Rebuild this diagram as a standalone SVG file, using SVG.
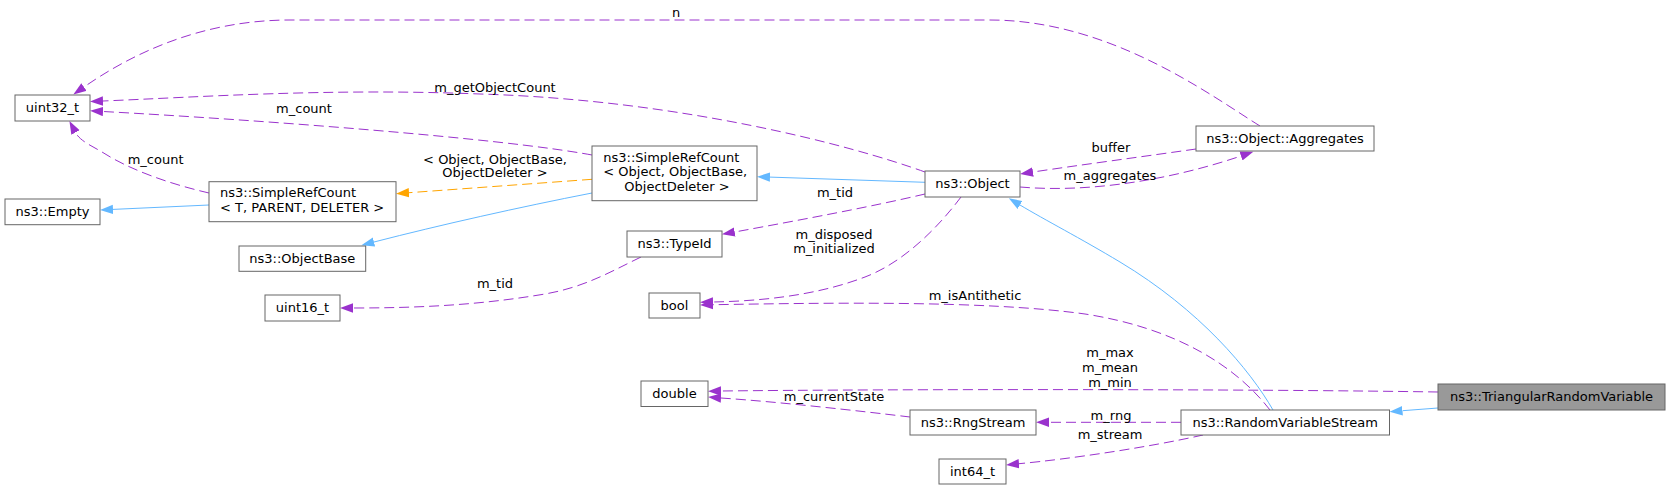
<svg xmlns="http://www.w3.org/2000/svg" width="1671" height="490" viewBox="0 0 1671 490">
<style>
  .node rect { fill: #ffffff; stroke: #666666; stroke-width: 1; }
  .node.main rect { fill: #999999; stroke: #666666; }
  text { font-family: "DejaVu Sans", "Liberation Sans", sans-serif; font-size: 13px; fill: #000000; }
  .c { text-anchor: middle; }
  .edge { fill: none; stroke-width: 1; }
  .use { stroke: #9a32cd; stroke-dasharray: 10,5; marker-end: url(#ap); }
  .inh { stroke: #63b8ff; marker-end: url(#ab); }
  .tpl { stroke: #ffa500; stroke-dasharray: 10,5; marker-end: url(#ao); }
</style>
<defs>
  <marker id="ap" markerUnits="userSpaceOnUse" markerWidth="14" markerHeight="10" refX="0" refY="5" orient="auto"><path d="M0,0.3 L13,5 L0,9.7 z" fill="#9a32cd"/></marker>
  <marker id="ab" markerUnits="userSpaceOnUse" markerWidth="14" markerHeight="10" refX="0" refY="5" orient="auto"><path d="M0,0.3 L13,5 L0,9.7 z" fill="#63b8ff"/></marker>
  <marker id="ao" markerUnits="userSpaceOnUse" markerWidth="14" markerHeight="10" refX="0" refY="5" orient="auto"><path d="M0,0.3 L13,5 L0,9.7 z" fill="#ffa500"/></marker>
</defs>
<rect x="0" y="0" width="1671" height="490" fill="#ffffff"/>

<g id="connectors">
  <path class="edge inh" d="M1438,408 L1402.5,410.7"/>
  <path class="edge inh" d="M1273,410 C1250,370 1200,310 1120,262 C1080,238 1045,220 1020,205"/>
  <path class="edge inh" d="M925,182.3 L770,177.1"/>
  <path class="edge tpl" d="M592,179.3 L409,192.7"/>
  <path class="edge inh" d="M592,193 C520,207 440,225 374,242"/>
  <path class="edge inh" d="M209,205 L113,209.4"/>
  <path class="edge use" d="M209,193 C170,184 130,170 102,152 C92,146 80,141 75.5,132.5"/>
  <path class="edge use" d="M592,155 C500,138 260,120 103,111.5"/>
  <path class="edge use" d="M925,172 C850,145 680,100 480,94 C330,88 200,97 103,101"/>
  <path class="edge use" d="M1260,126 C1210,95 1110,20 990,20 L290,20 C200,20 130,55 84,87"/>
  <path class="edge use" d="M1196,149 C1140,157 1080,165 1033,172"/>
  <path class="edge use" d="M1020,187 C1090,193 1170,180 1241,156"/>
  <path class="edge use" d="M925,194 C870,207 800,220 734.7,232"/>
  <path class="edge use" d="M641,257 C610,272 585,287 545,294 C480,305 420,308 353,308"/>
  <path class="edge use" d="M961,197 C940,225 905,262 865,277 C815,296 760,301 713,302"/>
  <path class="edge use" d="M1270,410 C1235,365 1175,328 1085,314 C985,300 820,303 713,304.7"/>
  <path class="edge use" d="M1438,392 C1250,389 900,389 721,391"/>
  <path class="edge use" d="M910,417 C860,411 780,402 721,398"/>
  <path class="edge use" d="M1181,422.3 L1049,422.3"/>
  <path class="edge use" d="M1203,435 C1150,447 1070,459 1019,463.7"/>

  <text class="c" x="676" y="16.5">n</text>
  <text class="c" x="495" y="91.5">m_getObjectCount</text>
  <text class="c" x="304" y="112.5">m_count</text>
  <text class="c" x="155.6" y="163.5">m_count</text>
  <text class="c" x="495" y="163.5">&lt; Object, ObjectBase,</text>
  <text class="c" x="495" y="177">ObjectDeleter &gt;</text>
  <text class="c" x="1111" y="151.5">buffer</text>
  <text class="c" x="1110" y="179.5">m_aggregates</text>
  <text class="c" x="835" y="196.5">m_tid</text>
  <text class="c" x="834" y="238.5">m_disposed</text>
  <text class="c" x="834" y="252.5">m_initialized</text>
  <text class="c" x="495" y="287.5">m_tid</text>
  <text class="c" x="975" y="299.5">m_isAntithetic</text>
  <text class="c" x="1110" y="357">m_max</text>
  <text class="c" x="1110" y="372">m_mean</text>
  <text class="c" x="1110" y="387">m_min</text>
  <text class="c" x="834" y="401">m_currentState</text>
  <text class="c" x="1111" y="419.5">m_rng</text>
  <text class="c" x="1110" y="438.5">m_stream</text>
</g>

<g id="node-uint32_t" class="node">
  <rect x="15" y="95" width="75" height="26"/>
  <text class="c" x="52.5" y="112">uint32_t</text>
</g>
<g id="node-empty" class="node">
  <rect x="5" y="199" width="95" height="25.7"/>
  <text class="c" x="52.5" y="216">ns3::Empty</text>
</g>
<g id="node-simplerefcount-t" class="node">
  <rect x="209" y="181.7" width="187" height="40"/>
  <text x="220" y="197.2">ns3::SimpleRefCount</text>
  <text x="220" y="211.7">&lt; T, PARENT, DELETER &gt;</text>
</g>
<g id="node-simplerefcount-object" class="node">
  <rect x="592" y="146" width="165" height="54.7"/>
  <text x="603.3" y="161.5">ns3::SimpleRefCount</text>
  <text x="603.3" y="176">&lt; Object, ObjectBase,</text>
  <text x="624.3" y="190.5">ObjectDeleter &gt;</text>
</g>
<g id="node-objectbase" class="node">
  <rect x="239" y="246" width="126.7" height="25.3"/>
  <text class="c" x="302.3" y="262.7">ns3::ObjectBase</text>
</g>
<g id="node-uint16_t" class="node">
  <rect x="265" y="295" width="75" height="26"/>
  <text class="c" x="302.5" y="312">uint16_t</text>
</g>
<g id="node-typeid" class="node">
  <rect x="627" y="231" width="95" height="26"/>
  <text class="c" x="674.5" y="248">ns3::TypeId</text>
</g>
<g id="node-bool" class="node">
  <rect x="649" y="293" width="51" height="25"/>
  <text class="c" x="674.5" y="309.5">bool</text>
</g>
<g id="node-double" class="node">
  <rect x="641" y="381" width="67" height="25.5"/>
  <text class="c" x="674.5" y="397.7">double</text>
</g>
<g id="node-object" class="node">
  <rect x="925" y="171" width="95" height="26"/>
  <text class="c" x="972.5" y="188">ns3::Object</text>
</g>
<g id="node-aggregates" class="node">
  <rect x="1196" y="126" width="178" height="25"/>
  <text class="c" x="1285" y="142.5">ns3::Object::Aggregates</text>
</g>
<g id="node-rngstream" class="node">
  <rect x="910" y="410" width="126" height="25"/>
  <text class="c" x="973" y="426.5">ns3::RngStream</text>
</g>
<g id="node-int64_t" class="node">
  <rect x="939" y="459" width="67" height="25"/>
  <text class="c" x="972.5" y="475.5">int64_t</text>
</g>
<g id="node-randomvariablestream" class="node">
  <rect x="1181" y="410" width="208.5" height="25"/>
  <text class="c" x="1285.2" y="426.5">ns3::RandomVariableStream</text>
</g>
<g id="node-triangularrandomvariable" class="node main">
  <rect x="1438" y="384" width="227" height="26"/>
  <text class="c" x="1551.5" y="401">ns3::TriangularRandomVariable</text>
</g>
</svg>
